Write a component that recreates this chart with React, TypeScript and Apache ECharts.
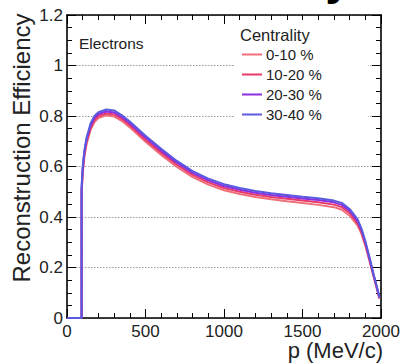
import React, { useEffect, useRef } from "react";
import * as echarts from "echarts";

const P = [0, 93, 93, 100, 110, 125, 150, 175, 200, 250, 300, 350, 400, 500, 600, 700, 800, 900, 1000, 1100, 1200, 1300, 1400, 1500, 1600, 1700, 1750, 1800, 1850, 1875, 1900, 1925, 1950, 1975, 1990];

const C0_10 = [0, 0, 0.49, 0.57, 0.635, 0.69, 0.745, 0.776, 0.792, 0.803, 0.798, 0.78, 0.755, 0.698, 0.646, 0.598, 0.558, 0.528, 0.506, 0.491, 0.479, 0.47, 0.462, 0.455, 0.448, 0.439, 0.429, 0.405, 0.367, 0.334, 0.286, 0.23, 0.17, 0.112, 0.076];
const C10_20 = [0, 0, 0.5, 0.58, 0.645, 0.7, 0.752, 0.784, 0.8, 0.81, 0.806, 0.788, 0.763, 0.706, 0.655, 0.607, 0.567, 0.537, 0.515, 0.5, 0.488, 0.479, 0.472, 0.465, 0.458, 0.449, 0.439, 0.416, 0.376, 0.342, 0.293, 0.235, 0.174, 0.115, 0.078];
const C20_30 = [0, 0, 0.51, 0.59, 0.655, 0.71, 0.762, 0.793, 0.808, 0.818, 0.814, 0.796, 0.771, 0.715, 0.663, 0.615, 0.575, 0.545, 0.523, 0.508, 0.496, 0.487, 0.48, 0.473, 0.467, 0.458, 0.448, 0.425, 0.385, 0.35, 0.3, 0.24, 0.177, 0.118, 0.08];
const C30_40 = [0, 0, 0.52, 0.6, 0.66, 0.715, 0.77, 0.8, 0.815, 0.826, 0.822, 0.803, 0.778, 0.722, 0.67, 0.622, 0.582, 0.552, 0.53, 0.515, 0.503, 0.494, 0.487, 0.48, 0.474, 0.465, 0.456, 0.432, 0.392, 0.355, 0.305, 0.245, 0.18, 0.12, 0.082];

const NAMES = ["0-10 %", "10-20 %", "20-30 %", "30-40 %"];
const COLORS = ["#f0707a", "#e83a68", "#8a2ee0", "#5a5ade"];
const SERIES = [C0_10, C10_20, C20_30, C30_40];

const FONT = "Liberation Sans, Arial, Helvetica, sans-serif";
const TXT = "#222";

export default function App() {
  const ref = useRef<HTMLDivElement>(null);
  useEffect(() => {
    if (!ref.current) return;
    const chart = echarts.init(ref.current, undefined, { renderer: "svg" });
    const frame = { show: true, lineStyle: { color: "#000", width: 1.6 } };
    const xCommon = {
      type: "value",
      min: 0,
      max: 2000,
      interval: 500,
      axisLine: { ...frame, onZero: false },
      axisTick: { show: true, inside: true, length: 9, lineStyle: { color: "#000", width: 1 } },
      minorTick: { show: true, splitNumber: 5, length: 5, lineStyle: { color: "#000", width: 1 } },
      splitLine: { show: false },
    };
    const yCommon = {
      type: "value",
      min: 0,
      max: 1.2,
      interval: 0.2,
      axisLine: { ...frame, onZero: false },
      axisTick: { show: true, inside: true, length: 9, lineStyle: { color: "#000", width: 1 } },
      minorTick: { show: true, splitNumber: 4, length: 5, lineStyle: { color: "#000", width: 1 } },
    };
    chart.setOption({
      animation: false,
      backgroundColor: "#fff",
      grid: { left: 67, right: 24, top: 15, bottom: 45, containLabel: false },
      xAxis: [
        {
          ...xCommon,
          position: "bottom",
          axisLabel: { fontSize: 17, color: TXT, fontFamily: FONT, margin: 5, formatter: (v: number) => String(v) },
        },
        {
          ...xCommon,
          position: "top",
          axisLabel: { show: false },
        },
      ],
      yAxis: [
        {
          ...yCommon,
          position: "left",
          axisLabel: { fontSize: 17, color: TXT, fontFamily: FONT, margin: 4, formatter: (v: number) => String(Math.round(v * 10) / 10) },
          splitLine: { show: true, lineStyle: { color: "#999", width: 1, type: [1.5, 1.5] } },
        },
        {
          ...yCommon,
          position: "right",
          axisLabel: { show: false },
          splitLine: { show: false },
        },
      ],
      legend: {
        orient: "vertical",
        left: 242,
        top: 47,
        padding: 0,
        itemWidth: 20,
        itemHeight: 2,
        itemGap: 5,
        icon: "rect",
        data: NAMES,
        textStyle: { fontSize: 15, lineHeight: 15, color: TXT, fontFamily: FONT, padding: [0, 0, 0, -1] },
        z: 5,
      },
      graphic: [
        {
          type: "rect",
          z: 1,
          shape: { x: 235, y: 20, width: 133, height: 104 },
          style: { fill: "#fff" },
        },
        {
          type: "text",
          z: 5,
          x: 240,
          y: 35,
          style: { text: "Centrality", fontSize: 16.5, fontFamily: FONT, fill: TXT, align: "left", verticalAlign: "middle" },
        },
        {
          type: "text",
          z: 5,
          x: 79,
          y: 43,
          style: { text: "Electrons", fontSize: 15.5, fontFamily: FONT, fill: TXT, align: "left", verticalAlign: "middle" },
        },
        {
          type: "text",
          z: 5,
          x: 21,
          y: 148,
          rotation: Math.PI / 2,
          style: { text: "Reconstruction Efficiency", fontSize: 24, fontFamily: FONT, fill: TXT, align: "center", verticalAlign: "middle" },
        },
        {
          type: "text",
          z: 5,
          x: 383,
          y: 350,
          style: { text: "p (MeV/c)", fontSize: 22, fontFamily: FONT, fill: TXT, align: "right", verticalAlign: "middle" },
        },
        {
          type: "text",
          z: 5,
          x: 352,
          y: -23,
          style: { text: "Efficiency", fontSize: 48, fontWeight: "bold", fontFamily: FONT, fill: "#000", align: "right", verticalAlign: "middle" },
        },
      ],
      series: SERIES.map((vals, i) => ({
        name: NAMES[i],
        type: "line",
        xAxisIndex: 0,
        yAxisIndex: 0,
        data: P.map((p, j) => [p, vals[j]]),
        showSymbol: false,
        symbol: "none",
        color: COLORS[i],
        lineStyle: { color: COLORS[i], width: 2 },
        z: 2 + i,
      })),
    });
    return () => chart.dispose();
  }, []);
  return <div ref={ref} style={{ width: 405, height: 363, position: "absolute", left: 0, top: 0 }} />;
}
